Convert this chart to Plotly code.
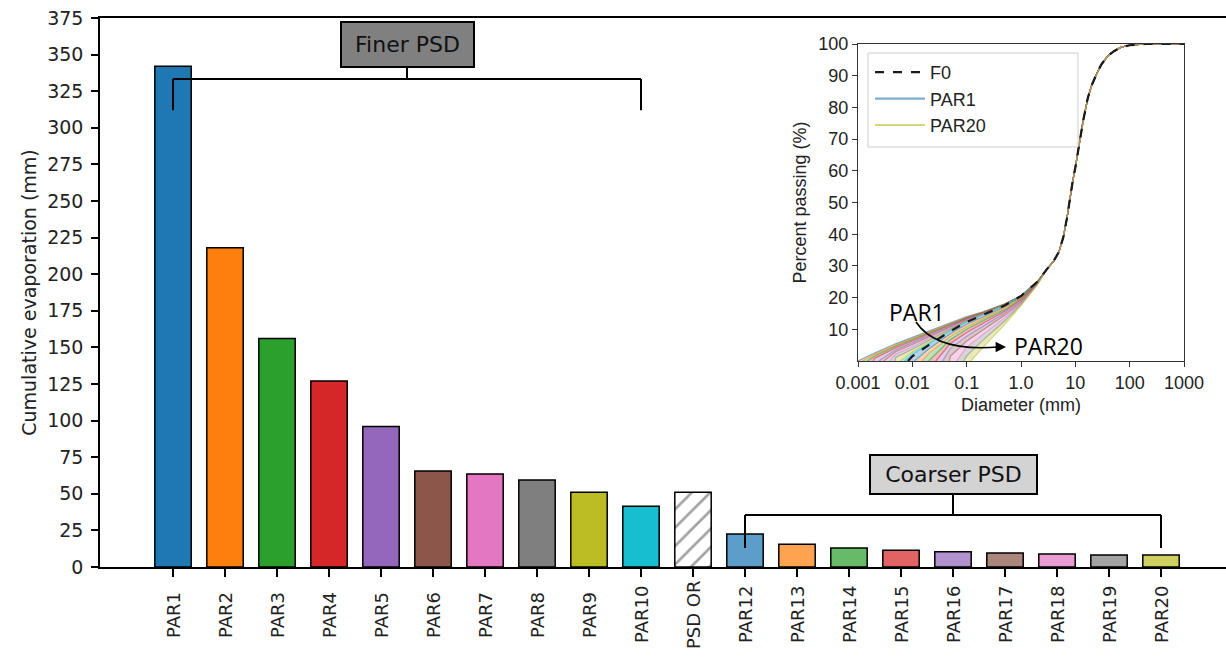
import plotly.graph_objects as go

# ---------------- main bar chart data ----------------
categories = ["PAR1", "PAR2", "PAR3", "PAR4", "PAR5", "PAR6", "PAR7", "PAR8", "PAR9", "PAR10",
              "PSD OR", "PAR12", "PAR13", "PAR14", "PAR15", "PAR16", "PAR17", "PAR18", "PAR19", "PAR20"]
evaporation_mm = [342, 218, 156, 127, 96, 65.5, 63.5, 59.5, 51, 41.5,
                  51, 22.5, 15.5, 13, 11.5, 10.5, 9.5, 8.8, 8.2, 8.2]
y_ticks = list(range(0, 376, 25))

# ---------------- inset PSD data ----------------
fan_names = ["PAR1", "PAR2", "PAR3", "PAR4", "PAR5", "PAR6", "PAR7", "PAR8", "PAR9", "PAR10",
             "F0", "PAR12", "PAR13", "PAR14", "PAR15", "PAR16", "PAR17", "PAR18", "PAR19", "PAR20"]
fan_start_mm = [0.001, 0.0012, 0.0015, 0.0019, 0.0024, 0.003, 0.0038, 0.0048, 0.006, 0.0072,
                0.0083, 0.011, 0.015, 0.02, 0.027, 0.036, 0.048, 0.065, 0.088, 0.12]
fan_d = [0.002, 0.005, 0.01, 0.02, 0.05, 0.1, 0.2, 0.5, 1.0, 2.0, 3.0]
N = None
fan_pct = [
    [2.5, 5.5, 7.5, 9.5, 12.0, 14.0, 15.5, 18.0, 20.5, 25, 29],
    [2.0, 5.1, 7.1, 9.2, 11.8, 13.8, 15.4, 18.0, 20.5, 25, 29],
    [1.5, 4.7, 6.7, 8.9, 11.6, 13.6, 15.3, 18.0, 20.5, 25, 29],
    [0.8, 4.2, 6.3, 8.5, 11.4, 13.5, 15.2, 17.9, 20.5, 25, 29],
    [N, 3.6, 5.8, 8.1, 11.1, 13.3, 15.1, 17.9, 20.5, 25, 29],
    [N, 3.0, 5.2, 7.6, 10.8, 13.1, 15.0, 17.8, 20.5, 25, 29],
    [N, 2.2, 4.5, 7.1, 10.5, 12.9, 14.9, 17.8, 20.5, 25, 29],
    [N, 1.2, 3.7, 6.5, 10.1, 12.7, 14.8, 17.7, 20.5, 25, 29],
    [N, N, 2.8, 5.9, 9.8, 12.5, 14.7, 17.7, 20.5, 25, 29],
    [N, N, 2.1, 5.4, 9.6, 12.4, 14.6, 17.6, 20.5, 25, 29],
    [N, N, 1.5, 5.0, 9.4, 12.3, 14.5, 17.5, 20.5, 25, 29],
    [N, N, N, 3.8, 8.6, 11.6, 13.9, 17.1, 20.2, 24.9, 29],
    [N, N, N, 2.4, 7.7, 10.8, 13.3, 16.7, 19.9, 24.8, 29],
    [N, N, N, N, 6.7, 10.0, 12.6, 16.2, 19.6, 24.7, 29],
    [N, N, N, N, 5.5, 9.0, 11.8, 15.7, 19.3, 24.6, 29],
    [N, N, N, N, 4.0, 7.8, 10.9, 15.1, 18.9, 24.5, 29],
    [N, N, N, N, 1.5, 6.3, 9.8, 14.4, 18.5, 24.4, 29],
    [N, N, N, N, N, 4.3, 8.4, 13.6, 18.1, 24.3, 29],
    [N, N, N, N, N, 1.6, 6.6, 12.6, 17.8, 24.2, 29],
    [N, N, N, N, N, N, 4.3, 11.5, 17.5, 24.0, 29],
]
tail_d = [4.0, 5.0, 6.0, 7.0, 8.0, 9.0, 10, 12, 14, 17, 20, 25, 30, 40, 50, 70, 100, 200, 1000]
tail_p = [31.5, 34.5, 39, 45, 52, 57, 61, 69.5, 76, 83, 87, 90.8, 93.5, 96.3, 97.6, 99, 99.6, 100, 100]
inset_xticks = [0.001, 0.01, 0.1, 1, 10, 100, 1000]
inset_xticktext = ["0.001", "0.01", "0.1", "1.0", "10", "100", "1000"]
inset_yticks = list(range(10, 101, 10))

# ---------------- styling ----------------
tab10 = [(31, 119, 180), (255, 127, 14), (44, 160, 44), (214, 39, 40), (148, 103, 189),
         (140, 86, 75), (227, 119, 194), (127, 127, 127), (188, 189, 34), (23, 190, 207)]


def rgba(c, a):
    return "rgba(%d,%d,%d,%.2f)" % (c[0], c[1], c[2], a)


def color_index(name):
    n = int(name.replace("PAR", ""))
    return (n - 1) % 10 if n <= 10 else (n - 2) % 10


bar_colors, bar_patterns = [], []
for c in categories:
    if c == "PSD OR":
        bar_colors.append("white")
        bar_patterns.append("/")
    else:
        n = int(c.replace("PAR", ""))
        bar_colors.append(rgba(tab10[color_index(c)], 1.0 if n <= 10 else 0.72))
        bar_patterns.append("")

MAIN_FONT = "DejaVu Sans"
INSET_FONT = "Liberation Sans"

# pixel -> paper helpers (plot area: x 100..1226, y 18..567)
def px(x):
    return (x - 100) / 1126.0


def py(y):
    return (567 - y) / 549.0


fig = go.Figure()
fig.add_trace(go.Bar(
    x=categories, y=evaporation_mm, width=0.7,
    marker=dict(color=bar_colors, line=dict(color="black", width=1.5),
                pattern=dict(shape=bar_patterns, fgcolor="black", bgcolor="white",
                             size=13, solidity=0.2)),
    showlegend=False, hoverinfo="x+y"))

# inset fan of PSD curves: bands between consecutive curves
first = True
for name, start, row in zip(fan_names, fan_start_mm, fan_pct):
    xs, ys = [start], [0]
    for d, p in zip(fan_d, row):
        if p is not None:
            xs.append(d)
            ys.append(p)
    xs += tail_d
    ys += tail_p
    if name == "F0":
        f0 = (xs, ys)
        continue
    col = tab10[color_index(name)]
    fig.add_trace(go.Scatter(x=xs, y=ys, xaxis="x2", yaxis="y2", mode="lines",
                             line=dict(color=rgba(col, 0.55), width=1.2),
                             fill=None if first else "tonexty", fillcolor=rgba(col, 0.32),
                             showlegend=False, name=name))
    first = False

fig.add_trace(go.Scatter(x=f0[0], y=f0[1], xaxis="x2", yaxis="y2", mode="lines",
                         line=dict(color="#1a1a1a", width=2.2, dash="dash"),
                         name="F0", legendrank=1))
# legend proxies
fig.add_trace(go.Scatter(x=[None], y=[None], xaxis="x2", yaxis="y2", mode="lines",
                         line=dict(color=rgba(tab10[0], 0.6), width=2.2), name="PAR1", legendrank=2))
fig.add_trace(go.Scatter(x=[None], y=[None], xaxis="x2", yaxis="y2", mode="lines",
                         line=dict(color=rgba(tab10[8], 0.6), width=2.2), name="PAR20", legendrank=3))

# ---------------- brackets ----------------
i_first, i_last = categories.index("PAR1"), categories.index("PAR10")
j_first, j_last = categories.index("PAR12"), categories.index("PAR20")
shapes = []
ln = dict(color="black", width=2)
fine_y, fine_drop, fine_top = 333.3, 312, 341.5
shapes += [
    dict(type="line", xref="x", yref="y", x0=i_first, x1=i_last, y0=fine_y, y1=fine_y, line=ln),
    dict(type="line", xref="x", yref="y", x0=i_first, x1=i_first, y0=fine_y, y1=fine_drop, line=ln),
    dict(type="line", xref="x", yref="y", x0=i_last, x1=i_last, y0=fine_y, y1=fine_drop, line=ln),
    dict(type="line", xref="x", yref="y", x0=(i_first + i_last) / 2, x1=(i_first + i_last) / 2,
         y0=fine_y, y1=fine_top, line=ln),
]
co_y, co_drop, co_top = 35.5, 13, 50
shapes += [
    dict(type="line", xref="x", yref="y", x0=j_first, x1=j_last, y0=co_y, y1=co_y, line=ln),
    dict(type="line", xref="x", yref="y", x0=j_first, x1=j_first, y0=co_y, y1=co_drop, line=ln),
    dict(type="line", xref="x", yref="y", x0=j_last, x1=j_last, y0=co_y, y1=co_drop, line=ln),
    dict(type="line", xref="x", yref="y", x0=(j_first + j_last) / 2, x1=(j_first + j_last) / 2,
         y0=co_y, y1=co_top, line=ln),
]
# legend frame in the inset
shapes.append(dict(type="rect", xref="paper", yref="paper", x0=px(868), x1=px(1078),
                   y0=py(147), y1=py(53), line=dict(color="#cccccc", width=1),
                   fillcolor="rgba(255,255,255,0.85)", layer="above"))
# curved arrow in inset
shapes.append(dict(type="path", xref="paper", yref="paper",
                   path="M %.4f,%.4f Q %.4f,%.4f %.4f,%.4f" % (px(916), py(322), px(936), py(352),
                                                              px(998), py(347)),
                   line=dict(color="black", width=1.6)))

annotations = [
    dict(x=(i_first + i_last) / 2, y=356.9, xref="x", yref="y", text="Finer PSD",
         showarrow=False, font=dict(family=MAIN_FONT, size=22, color="#111"),
         bgcolor="#808080", bordercolor="black", borderwidth=2, borderpad=2,
         width=127, height=39),
    dict(x=(j_first + j_last) / 2, y=63.2, xref="x", yref="y", text="Coarser PSD",
         showarrow=False, font=dict(family=MAIN_FONT, size=22, color="#111"),
         bgcolor="#d3d3d3", bordercolor="black", borderwidth=2, borderpad=2,
         width=161, height=33),
    dict(x=px(917), y=py(312), xref="paper", yref="paper", text="PAR1", showarrow=False,
         xanchor="center", yanchor="middle",
         font=dict(family="Open Sans", size=23, color="black")),
    dict(x=px(1048), y=py(346), xref="paper", yref="paper", text="PAR20", showarrow=False,
         xanchor="center", yanchor="middle",
         font=dict(family="Open Sans", size=23, color="black")),
    dict(x=px(1006), y=py(347), xref="paper", yref="paper", text="", showarrow=True,
         ax=-12, ay=0, arrowhead=2, arrowsize=1.3, arrowwidth=1.6, arrowcolor="black"),
]
# rotated category labels, centred like the reference
for c in categories:
    annotations.append(dict(x=c, y=py(615), xref="x", yref="paper", text=c, textangle=-90,
                            showarrow=False, xanchor="center", yanchor="middle",
                            font=dict(family=MAIN_FONT, size=18, color="#222")))

fig.update_layout(
    width=1226, height=664,
    margin=dict(l=100, r=0, t=18, b=97),
    paper_bgcolor="white", plot_bgcolor="white",
    barmode="overlay",
    shapes=shapes, annotations=annotations,
    xaxis=dict(type="category", categoryorder="array", categoryarray=categories,
               range=[-1.404, 20.25], showline=True, linecolor="black", linewidth=1.5,
               mirror=True, ticks="outside", ticklen=8, tickwidth=1.5, tickcolor="black",
               showticklabels=False, showgrid=False, automargin=False),
    yaxis=dict(range=[0, 375], tickvals=y_ticks, showline=True, linecolor="black",
               linewidth=1.5, ticks="outside", ticklen=7, tickwidth=1.5, tickcolor="black",
               showgrid=False, zeroline=False, ticklabelstandoff=4, automargin=False,
               tickfont=dict(family=MAIN_FONT, size=19, color="#222"),
               title=dict(text="Cumulative evaporation (mm)", standoff=6,
                          font=dict(family=MAIN_FONT, size=19, color="#222"))),
    xaxis2=dict(domain=[px(858), px(1184)], anchor="y2", type="log", range=[-3, 3],
                tickvals=inset_xticks, ticktext=inset_xticktext, showline=True,
                linecolor="#333", linewidth=1.2, mirror=True, ticks="outside", ticklen=5,
                tickcolor="#333", showgrid=False, zeroline=False, automargin=False,
                tickfont=dict(family=INSET_FONT, size=18, color="#222"),
                title=dict(text="Diameter (mm)", standoff=6,
                           font=dict(family=INSET_FONT, size=18, color="#222"))),
    yaxis2=dict(domain=[py(361), py(44)], anchor="x2", range=[0, 100], tickvals=inset_yticks,
                showline=True, linecolor="#333", linewidth=1.2, mirror=True, ticks="outside",
                ticklen=5, tickcolor="#333", showgrid=False, zeroline=False, automargin=False,
                tickfont=dict(family=INSET_FONT, size=18, color="#222"),
                title=dict(text="Percent passing (%)", standoff=6,
                           font=dict(family=INSET_FONT, size=18, color="#222"))),
    legend=dict(x=px(870), y=py(54), xanchor="left", yanchor="top", traceorder="normal",
                font=dict(family=INSET_FONT, size=18, color="#222"), itemwidth=50,
                borderwidth=0, bgcolor="rgba(0,0,0,0)", tracegroupgap=0),
)

fig.write_html("out.html", config={"displayModeBar": False},
               post_script="document.body.style.margin='0';")
